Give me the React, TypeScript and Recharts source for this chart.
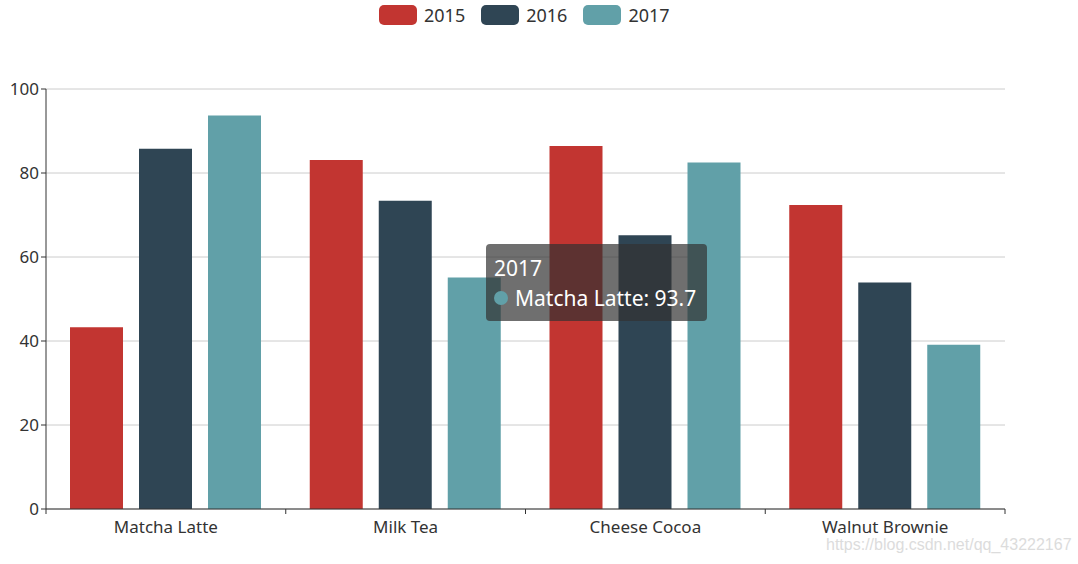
import React from 'react';
import { BarChart, Bar, XAxis, YAxis, CartesianGrid } from 'recharts';

const categories = ['Matcha Latte', 'Milk Tea', 'Cheese Cocoa', 'Walnut Brownie'];
const years = ['2015', '2016', '2017'];
const values2015 = [43.3, 83.1, 86.4, 72.4];
const values2016 = [85.8, 73.4, 65.2, 53.9];
const values2017 = [93.7, 55.1, 82.5, 39.1];
const yTicks = [0, 20, 40, 60, 80, 100];

const COLORS = ['#c23531', '#2f4554', '#61a0a8'];
const FONT = '"Noto Sans", "DejaVu Sans", sans-serif';

const data = categories.map((name, i) => ({
  name,
  '2015': values2015[i],
  '2016': values2016[i],
  '2017': values2017[i],
}));

const BAND = 959 / categories.length;

// label at the centre, tick marks on the band edges like echarts
const CategoryTick = (props: any) => {
  const { x, y, payload, index } = props;
  const left = x - BAND / 2;
  return (
    <g>
      <line x1={left} y1={y - 8} x2={left} y2={y - 3} stroke="#333" />
      {index === categories.length - 1 && (
        <line x1={left + BAND} y1={y - 8} x2={left + BAND} y2={y - 3} stroke="#333" />
      )}
      <text x={x} y={y + 16} textAnchor="middle" fill="#333" fontSize={17} fontFamily={FONT}>
        {payload.value}
      </text>
    </g>
  );
};

const App: React.FC = () => {
  return (
    <div style={{ position: 'absolute', left: 0, top: 0, width: 1078, height: 564, background: '#fff', fontFamily: FONT }}>
      <div style={{ position: 'absolute', top: 3, left: 379, display: 'flex', gap: 16 }}>
        {years.map((y, i) => (
          <div key={y} style={{ display: 'flex', alignItems: 'center', gap: 7 }}>
            <div style={{ width: 38, height: 20, borderRadius: 5, background: COLORS[i] }} />
            <span style={{ fontSize: 18, color: '#333' }}>{y}</span>
          </div>
        ))}
      </div>

      <BarChart
        width={1078}
        height={564}
        data={data}
        margin={{ top: 89, right: 73, left: 0, bottom: 0 }}
        barCategoryGap={24}
        barGap={16}
      >
        <CartesianGrid vertical={false} stroke="#ccc" />
        <XAxis
          dataKey="name"
          height={55}
          tick={<CategoryTick />}
          tickLine={false}
          axisLine={{ stroke: '#333' }}
          interval={0}
        />
        <YAxis
          width={46}
          domain={[0, 100]}
          ticks={yTicks}
          tick={{ fill: '#333', fontSize: 17, fontFamily: FONT }}
          tickLine={{ stroke: '#333' }}
          tickSize={5}
          axisLine={{ stroke: '#333' }}
        />
        {years.map((y, i) => (
          <Bar key={y} dataKey={y} fill={COLORS[i]} isAnimationActive={false} />
        ))}
      </BarChart>

      <div
        style={{
          position: 'absolute',
          left: 486,
          top: 244,
          width: 221,
          height: 77,
          boxSizing: 'border-box',
          background: 'rgba(50,50,50,0.7)',
          borderRadius: 4,
          padding: '9px 8px',
          color: '#fff',
          fontSize: 21,
          lineHeight: '30px',
        }}
      >
        <div>2017</div>
        <div style={{ display: 'flex', alignItems: 'center' }}>
          <span style={{ display: 'inline-block', width: 14, height: 14, borderRadius: 7, background: COLORS[2], marginRight: 7 }} />
          Matcha Latte: 93.7
        </div>
      </div>

      <div style={{ position: 'absolute', left: 826, top: 536, fontSize: 16, lineHeight: '18px', color: '#dcdcdc', fontFamily: '"Liberation Sans", Arial, sans-serif' }}>
        https://blog.csdn.net/qq_43222167
      </div>
    </div>
  );
};

export default App;
